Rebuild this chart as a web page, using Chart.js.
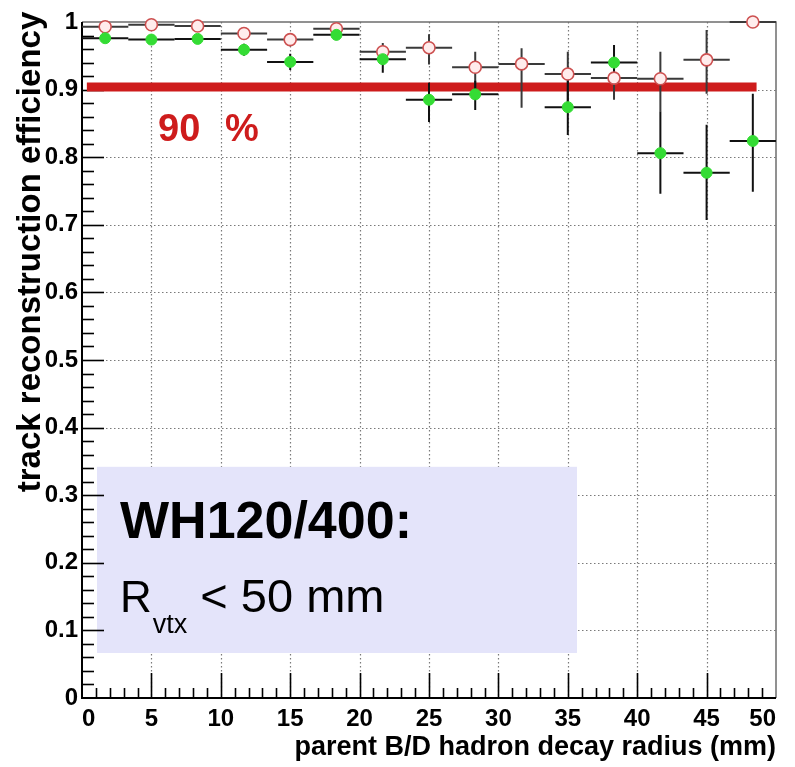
<!DOCTYPE html>
<html>
<head>
<meta charset="utf-8">
<script src="https://cdn.jsdelivr.net/npm/chart.js@4/dist/chart.umd.min.js"></script>
<style>
  html, body { margin: 0; padding: 0; background: #fff; }
  #wrap { width: 795px; height: 767px; }
</style>
</head>
<body>
<div id="wrap"><canvas id="effChart" width="795" height="767"></canvas></div>
<script>
// 15 bins of 3.33 mm over 0-50 mm
const binCenters = [1.67, 5.0, 8.33, 11.67, 15.0, 18.33, 21.67, 25.0, 28.33, 31.67, 35.0, 38.33, 41.67, 45.0, 48.33];
const binHalfWidth = 1.667;

// open red markers (upper set)
const effOpen   = [0.993, 0.996, 0.994, 0.983, 0.974, 0.990, 0.956, 0.962, 0.933, 0.938, 0.923, 0.917, 0.916, 0.944, 1.000];
const effOpenLo = [0.006, 0.005, 0.005, 0.008, 0.010, 0.006, 0.015, 0.025, 0.040, 0.065, 0.045, 0.032, 0.048, 0.050, 0.000];
const effOpenHi = [0.005, 0.004, 0.005, 0.007, 0.009, 0.005, 0.013, 0.020, 0.023, 0.023, 0.033, 0.030, 0.040, 0.044, 0.000];

// filled green markers (lower set), bin 10 has no visible point
const effFilled   = [0.976, 0.974, 0.975, 0.959, 0.941, 0.981, 0.945, 0.885, 0.893, null, 0.874, 0.940, 0.806, 0.777, 0.824];
const effFilledLo = [0.006, 0.006, 0.006, 0.009, 0.012, 0.008, 0.020, 0.033, 0.023, 0, 0.041, 0.025, 0.060, 0.070, 0.075];
const effFilledHi = [0.006, 0.006, 0.006, 0.009, 0.012, 0.008, 0.020, 0.025, 0.020, 0, 0.040, 0.026, 0.062, 0.071, 0.070];

// 90 % reference line
const refLevel = 0.904;
const refFrom = 0.35;
const refTo = 48.6;

const xTicks = [0, 5, 10, 15, 20, 25, 30, 35, 40, 45, 50];
const xTickLabels = ["0", "5", "10", "15", "20", "25", "30", "35", "40", "45", "50"];
const yTicks = [0, 0.1, 0.2, 0.3, 0.4, 0.5, 0.6, 0.7, 0.8, 0.9, 1];
const yTickLabels = ["0", "0.1", "0.2", "0.3", "0.4", "0.5", "0.6", "0.7", "0.8", "0.9", "1"];

const FONT = "'Liberation Sans', Arial, Helvetica, sans-serif";
const RED = "rgb(206,28,28)";

function points(ys) {
  return binCenters.map((x, i) => ({ x: x, y: ys[i] }));
}

// error crosses, drawn right after the reference line so markers sit on top
const errorBars = {
  id: "errorBars",
  afterDatasetDraw(chart, args) {
    if (args.index !== 2) return;
    const xs = chart.scales.x, ys = chart.scales.y;
    const ctx = chart.ctx;
    ctx.save();
    ctx.lineWidth = 2;
    const sets = [
      [effOpen, effOpenLo, effOpenHi, "#3a3a3a"],
      [effFilled, effFilledLo, effFilledHi, "#111"]
    ];
    sets.forEach(([vals, lo, hi, col]) => {
      ctx.strokeStyle = col;
      vals.forEach((v, i) => {
        if (v === null) return;
        const c = binCenters[i];
        const px = xs.getPixelForValue(c);
        const py = ys.getPixelForValue(v);
        ctx.beginPath();
        ctx.moveTo(xs.getPixelForValue(c - binHalfWidth), py);
        ctx.lineTo(xs.getPixelForValue(c + binHalfWidth), py);
        if (lo[i] || hi[i]) {
          ctx.moveTo(px, ys.getPixelForValue(v - lo[i]));
          ctx.lineTo(px, ys.getPixelForValue(v + hi[i]));
        }
        ctx.stroke();
      });
    });
    ctx.restore();
  }
};

// ROOT-like frame: dotted grid, inner tick marks, info box and titles
const frameDecor = {
  id: "frameDecor",
  beforeDatasetsDraw(chart) {
    const { ctx, chartArea: a } = chart;
    const xs = chart.scales.x, ys = chart.scales.y;
    ctx.save();

    // dotted grid
    ctx.strokeStyle = "#7a7a7a";
    ctx.lineWidth = 1.2;
    ctx.setLineDash([1.5, 2.5]);
    xTicks.slice(1, -1).forEach(v => {
      const px = Math.round(xs.getPixelForValue(v)) + 0.5;
      ctx.beginPath(); ctx.moveTo(px, a.top); ctx.lineTo(px, a.bottom); ctx.stroke();
    });
    yTicks.slice(1, -1).forEach(v => {
      const py = Math.round(ys.getPixelForValue(v)) + 0.5;
      ctx.beginPath(); ctx.moveTo(a.left, py); ctx.lineTo(a.right, py); ctx.stroke();
    });
    ctx.setLineDash([]);

    // info box
    const bx1 = xs.getPixelForValue(1.08), bx2 = xs.getPixelForValue(35.66);
    const by1 = ys.getPixelForValue(0.342), by2 = ys.getPixelForValue(0.0666);
    ctx.fillStyle = "rgb(228,228,250)";
    ctx.fillRect(bx1, by1, bx2 - bx1, by2 - by1);

    ctx.fillStyle = "#000";
    ctx.textBaseline = "alphabetic";
    ctx.textAlign = "left";
    const tx = xs.getPixelForValue(2.74);
    ctx.font = "bold 52px " + FONT;
    ctx.fillText("WH120/400:", tx, ys.getPixelForValue(0.2367));
    const rb = ys.getPixelForValue(0.127);
    ctx.font = "44px " + FONT;
    ctx.fillText("R", tx, rb);
    const rw = ctx.measureText("R").width;
    ctx.font = "27px " + FONT;
    ctx.fillText("vtx", tx + rw + 1, rb + 21);
    const vw = ctx.measureText("vtx").width;
    ctx.font = "47px " + FONT;
    ctx.fillText("< 50 mm", tx + rw + vw + 14, rb);

    // tick marks on the inside of the left and bottom axes
    ctx.strokeStyle = "#000";
    ctx.lineWidth = 1.6;
    for (let k = 1; k < 50; k++) {
      const px = Math.round(xs.getPixelForValue(k)) + 0.5;
      const len = k % 5 === 0 ? 25 : 10;
      ctx.beginPath(); ctx.moveTo(px, a.bottom); ctx.lineTo(px, a.bottom - len); ctx.stroke();
    }
    for (let k = 1; k < 50; k++) {
      const py = Math.round(ys.getPixelForValue(k * 0.02)) + 0.5;
      const len = k % 5 === 0 ? 22 : 12;
      ctx.beginPath(); ctx.moveTo(a.left, py); ctx.lineTo(a.left + len, py); ctx.stroke();
    }

    // frame: dark left/bottom axes, grey top/right
    ctx.strokeStyle = "#6e6e6e";
    ctx.lineWidth = 1.5;
    ctx.beginPath();
    ctx.moveTo(a.left, a.top); ctx.lineTo(a.right, a.top); ctx.lineTo(a.right, a.bottom);
    ctx.stroke();
    ctx.strokeStyle = "#000";
    ctx.lineWidth = 2;
    ctx.beginPath();
    ctx.moveTo(a.left, a.top); ctx.lineTo(a.left, a.bottom); ctx.lineTo(a.right, a.bottom);
    ctx.stroke();

    // "90 %" label
    ctx.fillStyle = RED;
    ctx.font = "bold 38px " + FONT;
    if ("wordSpacing" in ctx) ctx.wordSpacing = "14px";
    ctx.fillText("90 %", xs.getPixelForValue(5.48), ys.getPixelForValue(0.824));
    if ("wordSpacing" in ctx) ctx.wordSpacing = "0px";

    // axis titles
    ctx.fillStyle = "#000";
    ctx.font = "bold 27px " + FONT;
    ctx.textAlign = "right";
    ctx.fillText("parent B/D hadron decay radius (mm)", a.right, 755);
    ctx.save();
    ctx.translate(40, 252);
    ctx.rotate(-Math.PI / 2);
    ctx.textAlign = "center";
    ctx.font = "bold 33px " + FONT;
    ctx.fillText("track reconstruction efficiency", 0, 0);
    ctx.restore();

    ctx.restore();
  }
};

new Chart(document.getElementById("effChart"), {
  type: "scatter",
  data: {
    datasets: [
      {
        label: "filled",
        data: points(effFilled),
        pointRadius: 5.5,
        pointBackgroundColor: "rgb(52,220,52)",
        pointBorderColor: "rgb(52,220,52)",
        pointBorderWidth: 1,
        clip: false
      },
      {
        label: "open",
        data: points(effOpen),
        pointRadius: 6,
        pointBackgroundColor: "rgb(255,236,236)",
        pointBorderColor: "rgb(205,80,80)",
        pointBorderWidth: 1.6,
        clip: false
      },
      {
        label: "90 %",
        data: [{ x: refFrom, y: refLevel }, { x: refTo, y: refLevel }],
        showLine: true,
        borderColor: RED,
        borderWidth: 9,
        borderCapStyle: "butt",
        pointRadius: 0,
        clip: false
      }
    ]
  },
  options: {
    responsive: false,
    devicePixelRatio: 1,
    animation: false,
    events: [],
    layout: { padding: { left: 0, top: 22, right: 19, bottom: 0 } },
    plugins: { legend: { display: false }, tooltip: { enabled: false } },
    scales: {
      x: {
        type: "linear",
        min: 0,
        max: 50,
        afterBuildTicks: s => { s.ticks = xTicks.map(v => ({ value: v })); },
        afterFit: s => { s.height = 69; },
        grid: { display: false, drawTicks: false },
        border: { display: false },
        ticks: {
          align: "inner",
          padding: 7,
          color: "#000",
          font: { family: FONT, size: 24, weight: "bold" },
          callback: (v, i) => xTickLabels[i]
        }
      },
      y: {
        type: "linear",
        min: 0,
        max: 1,
        afterBuildTicks: s => { s.ticks = yTicks.map(v => ({ value: v })); },
        afterFit: s => { s.width = 82; },
        grid: { display: false, drawTicks: false },
        border: { display: false },
        ticks: {
          padding: 4,
          color: "#000",
          font: { family: FONT, size: 24, weight: "bold" },
          callback: (v, i) => yTickLabels[i]
        }
      }
    }
  },
  plugins: [errorBars, frameDecor]
});
</script>
</body>
</html>
